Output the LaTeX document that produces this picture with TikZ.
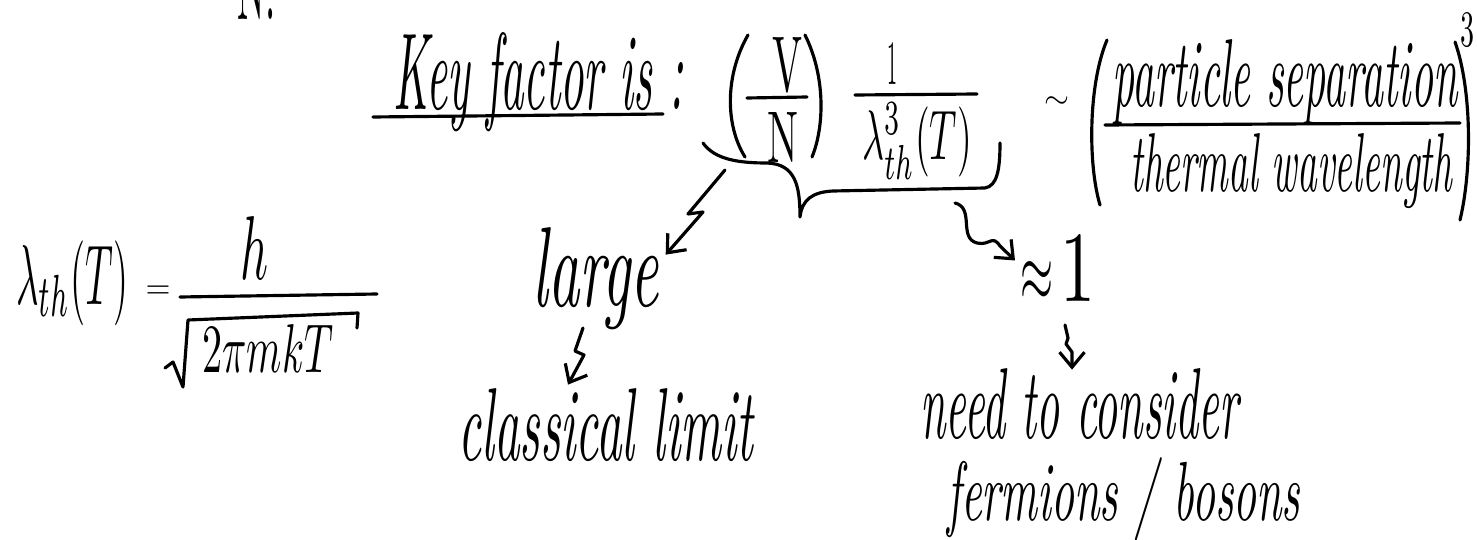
\documentclass[tikz,border=0pt]{standalone}
\usepackage{graphicx}
\usetikzlibrary{arrows.meta,calc}
\begin{document}
\begin{tikzpicture}[x=0.02cm,y=-0.02cm,
  word/.style={inner sep=0pt,anchor=base west,font=\itshape},
  upword/.style={inner sep=0pt,anchor=base west,font=\normalfont},
  mathnode/.style={inner sep=0pt,anchor=center},
  pen/.style={line width=1.8pt,line cap=round,line join=round},
  arr/.style={pen,-{Straight Barb[length=0.3cm,width=0.5cm]}}]
\clip (0,0) rectangle (1477,540);
\fill[white] (0,0) rectangle (1477,540);

% top fragment
\node[upword] (N) at (237,20) {\resizebox{0.76cm}{1.4cm}{N:}};

% key factor
\node[word] (key) at (393,110) {\resizebox{5.8cm}{1.54cm}{Key factor is :}};
\draw[pen] (373,117) -- (663,114);

% (V/N)
\draw[pen] (748,35) .. controls (725,75) and (725,125) .. (745,157);
\draw[pen] (805,35) .. controls (825,75) and (825,125) .. (812,157);
\node[upword] (V) at (772,92) {\resizebox{0.6cm}{1.08cm}{V}};
\draw[pen] (747,98) -- (807,97);
\node[upword] (Nd) at (767,163) {\resizebox{0.62cm}{1.0cm}{N}};

% 1 / lambda^3_th(T)
\node[upword] (one) at (887,85) {\resizebox{0.2cm}{0.84cm}{1}};
\draw[pen] (855,95) -- (977,94);
\node[mathnode] (lam) at (917,141) {\resizebox*{2.2cm}{1.54cm}{$\lambda^3_{th}(T)$}};

% brace under the key factor
\draw[pen] (703,143) .. controls (715,160) and (740,163) .. (767,163)
  .. controls (795,164) and (800,185) .. (800,217)
  .. controls (802,200) and (812,192) .. (833,191) -- (985,188)
  .. controls (997,186) and (1000,170) .. (1000,143);
\coordinate (bl) at (725,170);
\coordinate (br) at (955,203);

% ~ (particle separation / thermal wavelength)^3
\node[mathnode] (sim) at (1057,103) {\resizebox{0.5cm}{!}{$\sim$}};
\draw[pen] (1107,40) .. controls (1088,85) and (1088,165) .. (1100,205);
\draw[pen] (1455,42) .. controls (1472,90) and (1472,170) .. (1460,220);
\draw[pen] (1105,125) -- (1460,123);
\node[word] (num) at (1112,107) {\resizebox{6.9cm}{1.34cm}{particle separation}};
\node[word] (den) at (1130,192) {\resizebox{6.44cm}{1.16cm}{thermal wavelength}};
\node[mathnode] (cube) at (1467,30) {\resizebox{0.28cm}{0.68cm}{3}};

% thermal wavelength definition
\node[mathnode] (lth) at (72,283) {\resizebox*{2.24cm}{1.7cm}{$\lambda_{th}(T)$}};
\node[mathnode] (eq) at (158,292) {\resizebox{0.5cm}{0.25cm}{$=$}};
\draw[pen] (180,297) -- (377,294);
\node[mathnode] (h) at (254,248) {\resizebox{0.56cm}{1.26cm}{$h$}};
\draw[pen] (165,368) -- (173,362) -- (183,387) -- (188,320) -- (358,313) -- (357,328);
\node[upword] (rad) at (202,373) {\resizebox{2.62cm}{0.96cm}{$2\pi mkT$}};

% large -> classical limit
\node[word] (large) at (532,307) {\resizebox{2.52cm}{1.58cm}{large}};
\draw[arr] (bl) -- (688,214) -- (703,212) -- ($(large.north east)+(7,27)$);
\node[word] (classical) at (458,460) {\resizebox{5.9cm}{1.44cm}{classical limit}};
\coordinate (s2) at (583,328);
\draw[arr] (s2) -- (575,351) -- (584,355) -- ($(classical.north west)+(110,-3)$);

% approx 1 -> need to consider
\node[upword] (approx) at (1020,302) {\resizebox{0.66cm}{0.8cm}{$\approx$}\hspace{0.14cm}\resizebox{0.7cm}{1.34cm}{1}};
\draw[arr] (br) .. controls (975,208) and (958,238) .. (977,243)
  .. controls (990,246) and (992,234) .. (1000,246) -- ($(approx.west)+(-5,-8)$);
\node[word] (need) at (920,438) {\resizebox{6.36cm}{1.4cm}{need to consider}};
\node[word] (ferm) at (947,520) {\resizebox{7.06cm}{1.26cm}{fermions / bosons}};
\coordinate (s3) at (1065,325);
\draw[arr] (s3) -- (1068,338) -- (1066,344) -- (1072,352) -- ($(need.north west)+(152,2)$);
\end{tikzpicture}
\end{document}
